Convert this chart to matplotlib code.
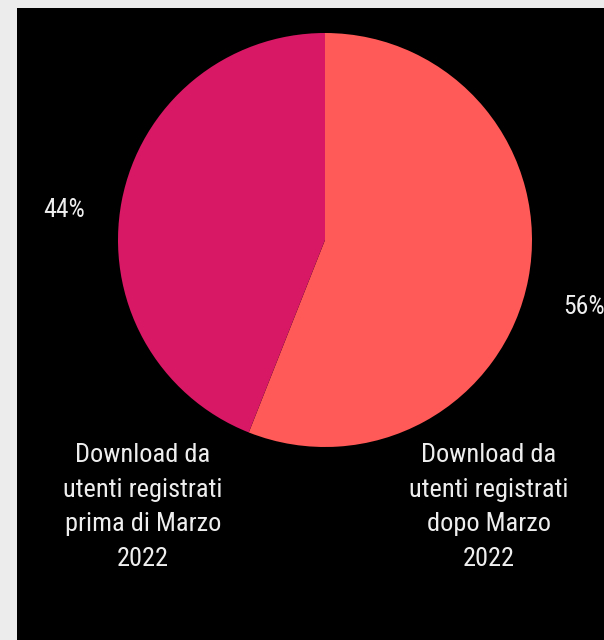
import matplotlib.pyplot as plt
from matplotlib.patches import Rectangle

# Quote di download per gruppo di utenti
labels = ["Download da\nutenti registrati\nprima di Marzo\n2022",
          "Download da\nutenti registrati\ndopo Marzo\n2022"]
shares = [44, 56]
colors = ["#D81865", "#FF5A57"]

W, H = 604, 640
fig = plt.figure(figsize=(W / 100, H / 100), dpi=100, facecolor="#ECECEC")
ax = fig.add_axes([0, 0, 1, 1])

# pannello nero
ax.add_patch(Rectangle((17, 0), W - 17, H - 8, facecolor="black", edgecolor="none", zorder=0))

font = ["Roboto Condensed", "Roboto", "DejaVu Sans"]

cx, cy, r = 325, 400, 207
# la fetta piu grande parte da ore 12 in senso orario
ax.pie(shares[::-1], colors=colors[::-1], startangle=90, counterclock=False,
       center=(cx, cy), radius=r, frame=True, wedgeprops=dict(linewidth=0))
ax.set_xlim(0, W)
ax.set_ylim(0, H)
ax.set_aspect("equal")
ax.axis("off")

# etichette percentuali
ax.text(43, H - 210, f"{shares[0]}%", color="#EEEEEE", fontsize=18.5, family=font,
        ha="left", va="center")
ax.text(563, H - 307, f"{shares[1]}%", color="#EEEEEE", fontsize=18.5, family=font,
        ha="left", va="center")

# legenda sotto la torta
for x, lab in zip([143, 489], labels):
    ax.text(x, H - 507, lab, color="#EEEEEE", fontsize=19, family=font,
            ha="center", va="center", linespacing=1.55, multialignment="center")

fig.savefig("out.png", dpi=100, facecolor=fig.get_facecolor())
